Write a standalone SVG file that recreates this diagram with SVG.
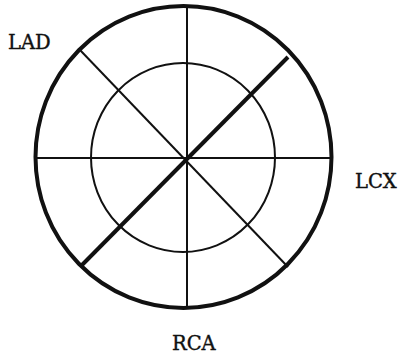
<svg xmlns="http://www.w3.org/2000/svg" width="400" height="360" viewBox="0 0 400 360">
<style>
.lbl{font-family:'DejaVu Serif','Liberation Serif',serif;font-size:19.5px;fill:#111;stroke:#111;stroke-width:0.4}
.thin{stroke:#111;stroke-width:2;fill:none}
.thick{stroke:#111;stroke-width:4;fill:none}
</style>
<rect width="400" height="360" fill="#fff"/>
<g id="connectors">
<line class="thin" x1="35" y1="158" x2="331" y2="158"/>
<line class="thin" x1="187" y1="6" x2="187" y2="307"/>
<line class="thin" x1="80" y1="50" x2="288" y2="267"/>
<line class="thick" x1="288" y1="57" x2="82" y2="265"/>
</g>
<g id="outer"><ellipse class="thick" cx="183.5" cy="157" rx="148" ry="151"/></g>
<g id="inner"><ellipse class="thin" cx="183" cy="157.5" rx="92" ry="94.5"/></g>
<g id="lad"><text class="lbl" x="8" y="49">LAD</text></g>
<g id="lcx"><text class="lbl" x="355" y="188">LCX</text></g>
<g id="rca"><text class="lbl" x="172" y="350">RCA</text></g>
</svg>
